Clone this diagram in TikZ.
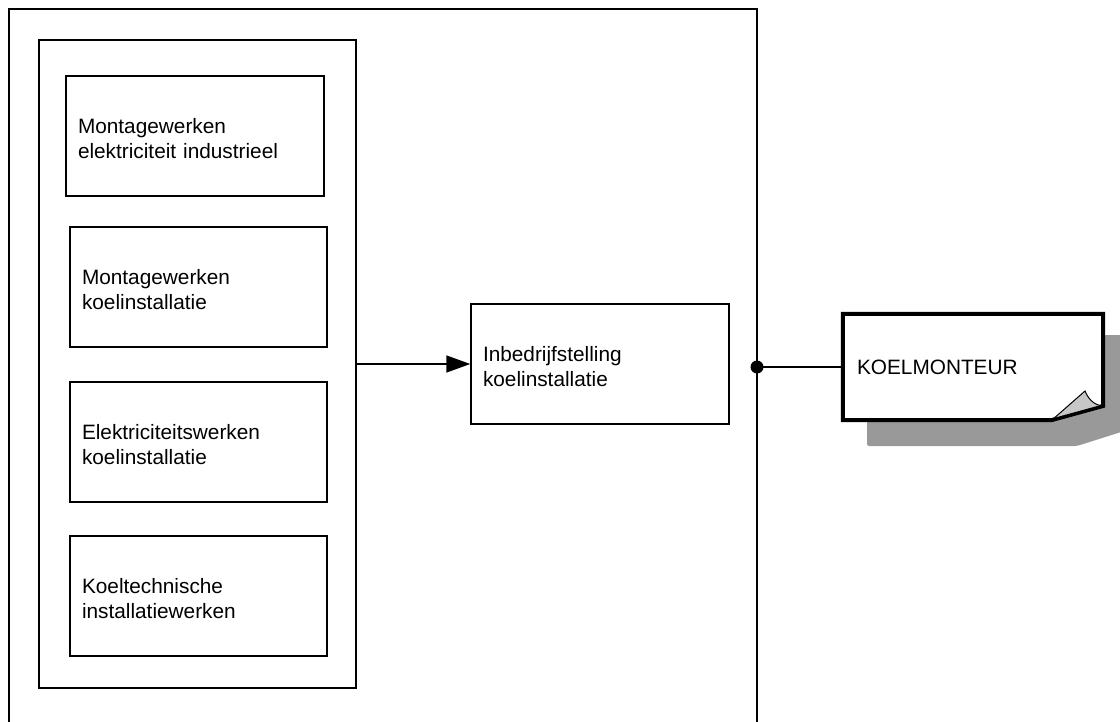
\documentclass[tikz,border=0pt]{standalone}
\usepackage{fontspec}
\setmainfont{Liberation Sans}
\usetikzlibrary{arrows.meta}
\begin{document}
\begin{tikzpicture}[x=1pt,y=-1pt,
  txt/.style={font=\fontsize{20.8}{25}\selectfont, align=left},
  box/.style={txt, draw, line width=1.5pt, rectangle, minimum height=120pt, inner xsep=12pt, inner ysep=0pt,
    execute at begin node={\rule{0pt}{21pt}}},
  frame/.style={draw, line width=1.5pt, rectangle, inner sep=0pt},
  conn/.style={line width=1.5pt}
]
\useasboundingbox (0,0) rectangle (1120,722);
% outer frame (open at bottom)
\draw[line width=1.5pt] (9,730) -- (9,9) -- (757,9) -- (757,730);
% container
\node[frame, minimum width=317pt, minimum height=648pt] (cont) at (197.5,364) {};
% inner boxes
\node[box, minimum width=258pt, text width=234pt] (b1) at (195,136) {Montagewerken\\elektriciteit industrieel};
\node[box, minimum width=257pt, text width=233pt] (b2) at (198.5,287) {Montagewerken\\koelinstallatie};
\node[box, minimum width=257pt, text width=233pt] (b3) at (198.5,442) {Elektriciteitswerken\\koelinstallatie};
\node[box, minimum width=257pt, text width=233pt] (b4) at (198.5,596) {Koeltechnische\\installatiewerken};
% target box
\node[box, minimum width=256pt, text width=234pt] (inbed) at (600,364) {Inbedrijfstelling\\koelinstallatie};
\draw[conn, -{Triangle[length=24pt,width=17pt]}] (cont.east |- inbed.west) -- (inbed.west);
% KOELMONTEUR document shape
\fill[black!40, rounded corners=2pt] (867,335) -- (1140,335) -- (1140,426) -- (1077,446) -- (867,446) -- cycle;
\node[txt, minimum width=260pt, minimum height=106pt, text width=232pt, inner xsep=14pt, inner ysep=0pt] (koel) at (973,367) {};
\filldraw[fill=white, line width=4pt, miter limit=10] (koel.north west) -- (koel.north east) -- (1103,406) -- (1052,420) -- (koel.south west) -- cycle;
\node[txt, inner xsep=14pt, inner ysep=0pt, anchor=west] at (koel.west) {KOELMONTEUR};
\filldraw[fill=black!22, line width=1pt] (1052,420) -- (1085,391) .. controls (1088,398) and (1093,405) .. (1103,406) -- cycle;
\draw[line width=3pt] (1052,420) -- (1103,406);
% connector with dot
\coordinate (dot) at (757,367);
\draw[conn] (dot) -- (koel.west);
\fill (dot) circle (6.5pt);
\end{tikzpicture}
\end{document}
